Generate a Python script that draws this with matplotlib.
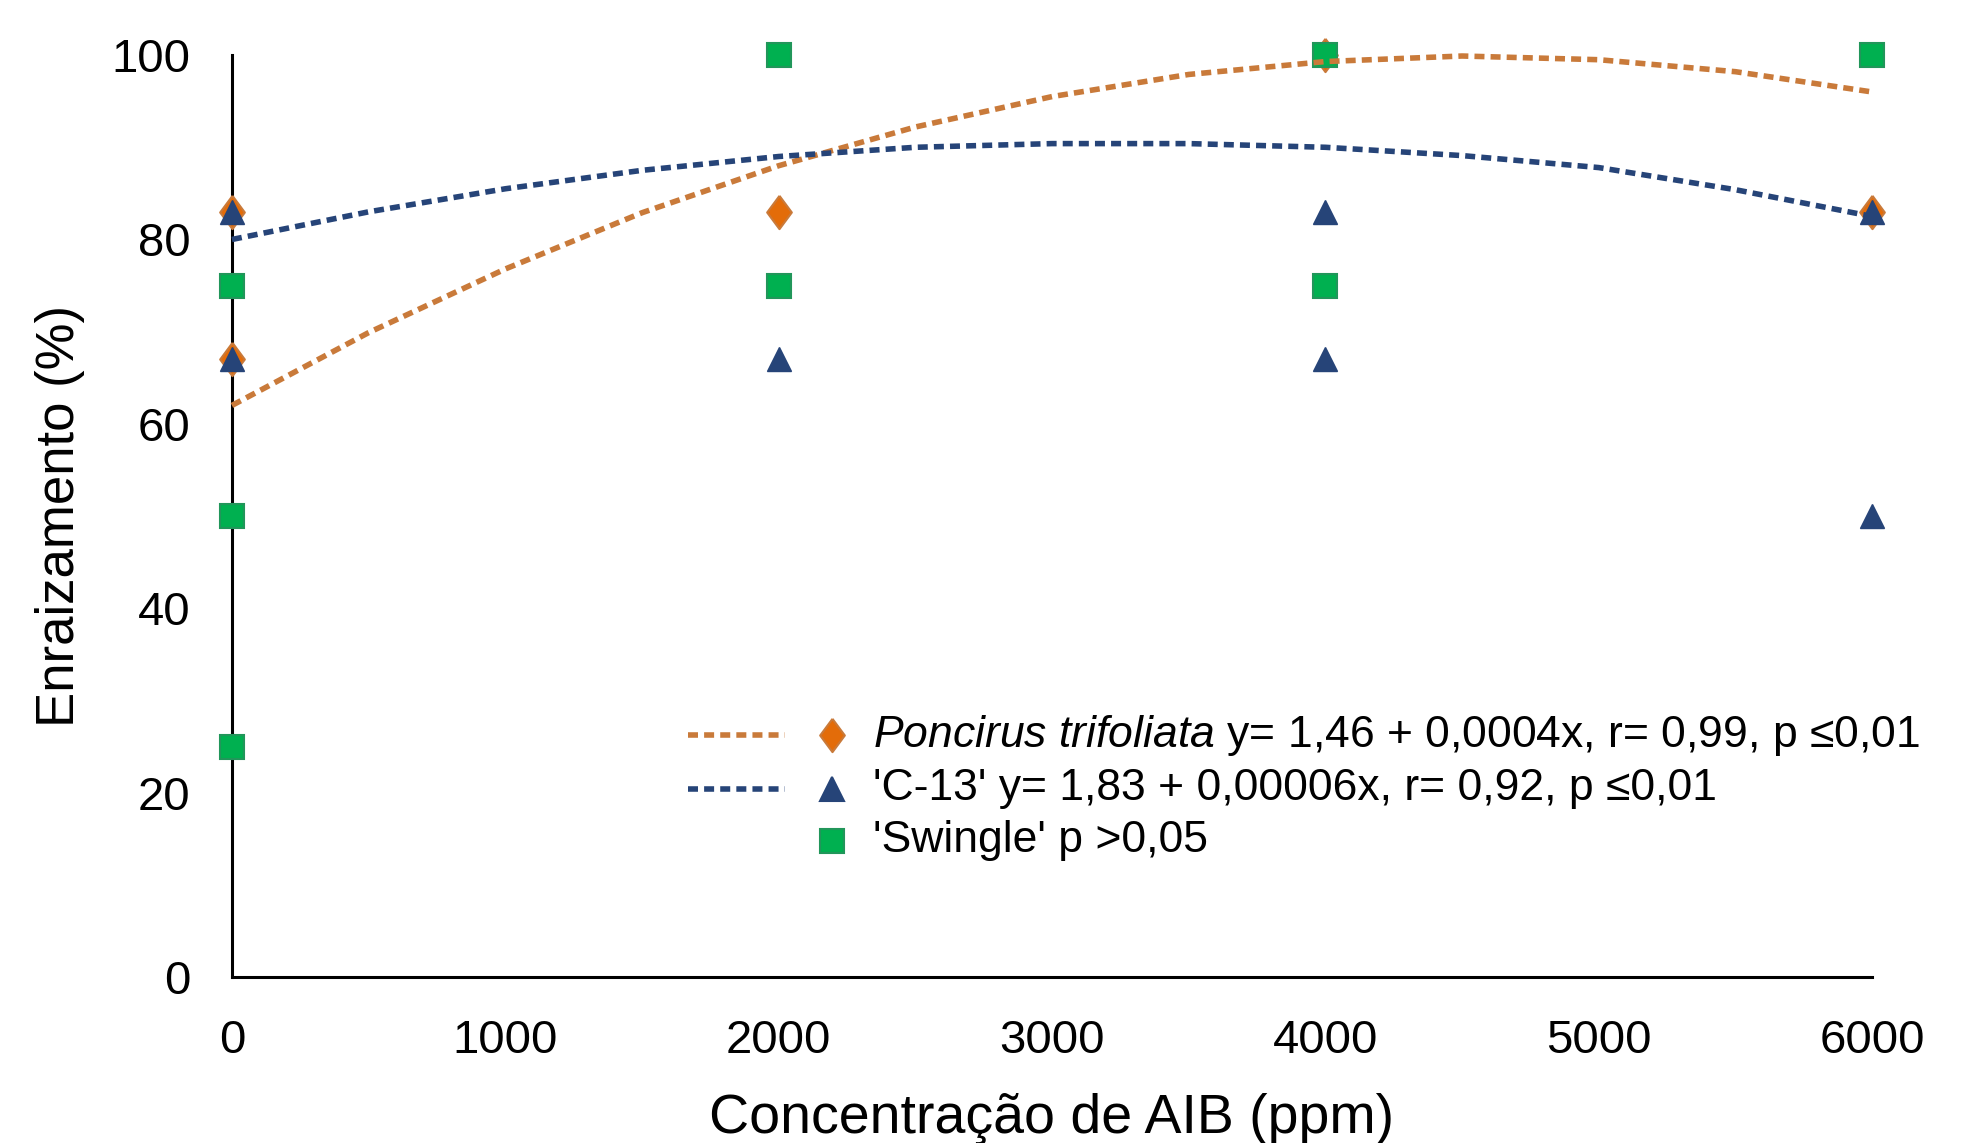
import matplotlib
matplotlib.use("Agg")
import matplotlib.pyplot as plt
from matplotlib.lines import Line2D

plt.rcParams['font.family'] = ['Liberation Sans', 'DejaVu Sans']
plt.rcParams['mathtext.fontset'] = 'custom'
plt.rcParams['mathtext.it'] = 'Liberation Sans:italic'
plt.rcParams['mathtext.rm'] = 'Liberation Sans'

# ---- data ----
poncirus_x = [0, 0, 2000, 4000, 6000]
poncirus_y = [83, 67, 83, 100, 83]
c13_x = [0, 0, 2000, 4000, 4000, 6000, 6000]
c13_y = [83, 67, 67, 83, 67, 83, 50]
swingle_x = [0, 0, 0, 2000, 2000, 4000, 4000, 6000]
swingle_y = [75, 50, 25, 100, 75, 100, 75, 100]

trend_x = [0, 500, 1000, 1500, 2000, 2500, 3000, 3500, 4000, 4500, 5000, 5500, 6000]
poncirus_trend = [62.0, 69.9, 76.8, 82.9, 88.0, 92.2, 95.5, 97.9, 99.3, 99.9, 99.5, 98.2, 96.0]
c13_trend = [80.0, 83.0, 85.5, 87.5, 89.0, 90.0, 90.4, 90.4, 90.0, 89.1, 87.8, 85.4, 82.5]

x_ticks = [0, 1000, 2000, 3000, 4000, 5000, 6000]
y_ticks = [0, 20, 40, 60, 80, 100]

labels = [r"$\it{Poncirus\ trifoliata}$ y= 1,46 + 0,0004x, r= 0,99, p ≤0,01",
          "'C-13' y= 1,83 + 0,00006x, r= 0,92, p ≤0,01",
          "'Swingle' p >0,05"]

# ---- style ----
orange = '#E36C09'
orange_line = '#C97A3A'
navy = '#264478'
green = '#00B050'
green_edge = '#21965A'
diamond = [(0, 1), (0.74, 0), (0, -1), (-0.74, 0), (0, 1)]
dash = dict(lw=4.0, dashes=(1.8, 1.1), dash_capstyle='butt')
ms_d, ms_t, ms_s = 24, 17, 17

fig = plt.figure(figsize=(19.69, 11.43), dpi=100)
ax = fig.add_axes([0.1178, 0.1452, 0.833, 0.8066])

ax.plot(poncirus_x, poncirus_y, linestyle='none', marker=diamond, ms=ms_d,
        mfc=orange, mec=orange_line, mew=1.5, clip_on=False, zorder=3)
ax.plot(c13_x, c13_y, linestyle='none', marker='^', ms=ms_t,
        mfc=navy, mec=navy, mew=1, clip_on=False, zorder=4)
ax.plot(swingle_x, swingle_y, linestyle='none', marker='s', ms=ms_s,
        mfc=green, mec=green_edge, mew=1.5, clip_on=False, zorder=5)

ax.plot(trend_x, poncirus_trend, color=orange_line, clip_on=False, zorder=6, **dash)
ax.plot(trend_x, c13_trend, color=navy, clip_on=False, zorder=6, **dash)

ax.set_xlim(0, 6000)
ax.set_ylim(0, 100)
ax.set_xticks(x_ticks)
ax.set_yticks(y_ticks)
ax.tick_params(axis='both', length=0, labelsize=34, pad=30)
for s in ['top', 'right']:
    ax.spines[s].set_visible(False)
for s in ['left', 'bottom']:
    ax.spines[s].set_linewidth(2.2)
    ax.spines[s].set_color('black')

ax.set_xlabel('Concentração de AIB (ppm)', fontsize=40, labelpad=22)
ax.set_ylabel('Enraizamento (%)', fontsize=38, labelpad=19)

# ---- legend (manual, in axes coordinates) ----
rows_y = [0.2625, 0.204, 0.148]
line_x = (0.278, 0.337)
marker_x = 0.366
text_x = 0.391
leg_line_colors = [orange_line, navy, None]
leg_markers = [(diamond, orange, orange_line, ms_d), ('^', navy, navy, ms_t),
               ('s', green, green_edge, ms_s)]
for ry, lc, (mk, fc, ec, msz), lab in zip(rows_y, leg_line_colors, leg_markers, labels):
    if lc is not None:
        ax.add_line(Line2D(line_x, (ry, ry), transform=ax.transAxes, color=lc,
                           clip_on=False, **dash))
    ax.add_line(Line2D([marker_x], [ry], transform=ax.transAxes, marker=mk, ms=msz,
                       mfc=fc, mec=ec, mew=1.5, linestyle='none', clip_on=False))
    ax.text(text_x, ry, lab, transform=ax.transAxes, fontsize=32, va='center', ha='left')

fig.savefig('out.png', dpi=100)
